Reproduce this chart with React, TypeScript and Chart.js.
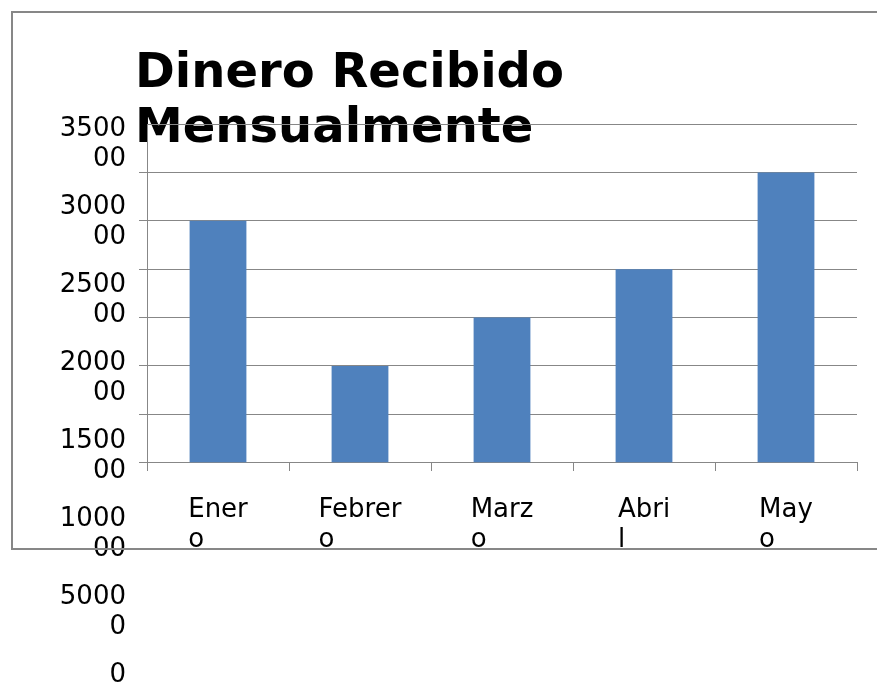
import { useEffect, useRef } from 'react';
import { Chart, registerables } from 'chart.js';

Chart.register(...registerables);

const TITLE_LINES = ['Dinero Recibido', 'Mensualmente'];
const MONTHS = ['Enero', 'Febrero', 'Marzo', 'Abril', 'Mayo'];
const AMOUNTS = [250000, 100000, 150000, 200000, 300000];
const Y_TICKS = [0, 50000, 100000, 150000, 200000, 250000, 300000, 350000];
const Y_MAX = 350000;

const GRID = '#878787';
const BAR = '#4F81BD';
const FONT = '"DejaVu Sans", sans-serif';
const LABEL_SIZE = 26;
const LINE_H = 30;

const wrapY = (value: number) => {
  const s = String(value);
  return s.length > 4 ? [s.slice(0, 4), s.slice(4)] : [s, ''];
};
const wrapX = (s: string) => [s.slice(0, -1), s.slice(-1)];

const zeroPad = (s: any) => {
  s.paddingTop = 0;
  s.paddingBottom = 0;
  s.paddingLeft = 0;
  s.paddingRight = 0;
};

const FRAME_BOTTOM = 549;

const decor = {
  id: 'decor',
  beforeDraw(chart: any) {
    const ctx = chart.ctx;
    ctx.save();
    ctx.fillStyle = '#000';
    ctx.font = `bold 48px ${FONT}`;
    ctx.textAlign = 'left';
    ctx.textBaseline = 'alphabetic';
    ctx.fillText(TITLE_LINES[0], 135, 87);
    ctx.fillText(TITLE_LINES[1], 135, 142);
    ctx.restore();
  },
  afterDatasetsDraw(chart: any) {
    const ctx = chart.ctx;
    const y = chart.scales.y;
    const xs = chart.scales.x;
    const x = Math.round(chart.chartArea.left) + 0.5;
    ctx.save();
    ctx.strokeStyle = GRID;
    ctx.lineWidth = 1;
    ctx.beginPath();
    ctx.moveTo(x, y.getPixelForValue(Y_MAX));
    ctx.lineTo(x, y.getPixelForValue(0));
    ctx.stroke();

    // category labels: lines left-aligned inside a block centred on the category
    ctx.beginPath();
    ctx.rect(0, 0, chart.width, FRAME_BOTTOM);
    ctx.clip();
    ctx.fillStyle = '#000';
    ctx.font = `${LABEL_SIZE}px ${FONT}`;
    ctx.textAlign = 'left';
    ctx.textBaseline = 'middle';
    const top = y.getPixelForValue(0) + 8 + 25 + LINE_H / 2;
    MONTHS.forEach((m, i) => {
      const lines = wrapX(m);
      const w = Math.max(...lines.map((l) => ctx.measureText(l).width));
      const left = xs.getPixelForValue(i) - w / 2;
      lines.forEach((l, k) => ctx.fillText(l, left, top + k * LINE_H));
    });
    ctx.restore();
  },
  afterDraw(chart: any) {
    const ctx = chart.ctx;
    ctx.save();
    ctx.strokeStyle = GRID;
    ctx.lineWidth = 2;
    ctx.strokeRect(12, 12, chart.width + 40, FRAME_BOTTOM - 12);
    ctx.restore();
  },
};

export default function App() {
  const ref = useRef<HTMLCanvasElement>(null);
  useEffect(() => {
    if (!ref.current) return;
    const chart = new Chart(ref.current, {
      type: 'bar',
      data: {
        labels: MONTHS,
        datasets: [
          {
            data: AMOUNTS,
            backgroundColor: BAR,
            borderWidth: 0,
            barPercentage: 0.4,
            categoryPercentage: 1,
          },
        ],
      },
      plugins: [decor],
      options: {
        animation: false,
        responsive: true,
        maintainAspectRatio: false,
        layout: { autoPadding: false, padding: { top: 124, right: 20, bottom: 14, left: 0 } },
        plugins: { legend: { display: false }, tooltip: { enabled: false }, title: { display: false } },
        scales: {
          x: {
            type: 'category',
            position: { y: 0 } as any,
            offset: true,
            grid: {
              offset: true,
              drawOnChartArea: false,
              drawTicks: true,
              tickLength: 8,
              color: GRID,
              lineWidth: 1,
            },
            border: { display: true, color: GRID, width: 1 },
            ticks: { display: false, autoSkip: false, maxRotation: 0, minRotation: 0 },
            afterFit: zeroPad,
          },
          y: {
            type: 'linear',
            position: 'left',
            weight: 0,
            min: -214220,
            max: Y_MAX,
            afterBuildTicks: (s: any) => {
              s.ticks = Y_TICKS.map((v) => ({ value: v }));
            },
            grid: {
              color: GRID,
              lineWidth: 1,
              drawTicks: true,
              tickLength: 8,
              tickColor: (c: any) => (c.tick && c.tick.value === Y_MAX ? 'rgba(0,0,0,0)' : GRID),
            },
            border: { display: false },
            ticks: { display: false },
            afterFit: (s: any) => {
              s.width = 8;
              zeroPad(s);
            },
          },
          yLab: {
            type: 'linear',
            axis: 'y',
            position: 'left',
            weight: 1,
            min: 0,
            max: Y_MAX,
            afterBuildTicks: (s: any) => {
              s.ticks = Y_TICKS.map((v) => ({ value: v }));
            },
            grid: { display: false, drawTicks: false },
            border: { display: false },
            ticks: {
              padding: 13,
              labelOffset: 20,
              color: '#000',
              font: { family: FONT, size: LABEL_SIZE, lineHeight: LINE_H / LABEL_SIZE },
              callback: (v: any) => wrapY(Number(v)),
            },
            afterFit: (s: any) => {
              s.width = 139;
              zeroPad(s);
            },
          },
        } as any,
      },
    });
    return () => chart.destroy();
  }, []);
  return (
    <div style={{ position: 'fixed', left: 0, top: 0, width: 877, height: 684 }}>
      <canvas ref={ref} />
    </div>
  );
}
